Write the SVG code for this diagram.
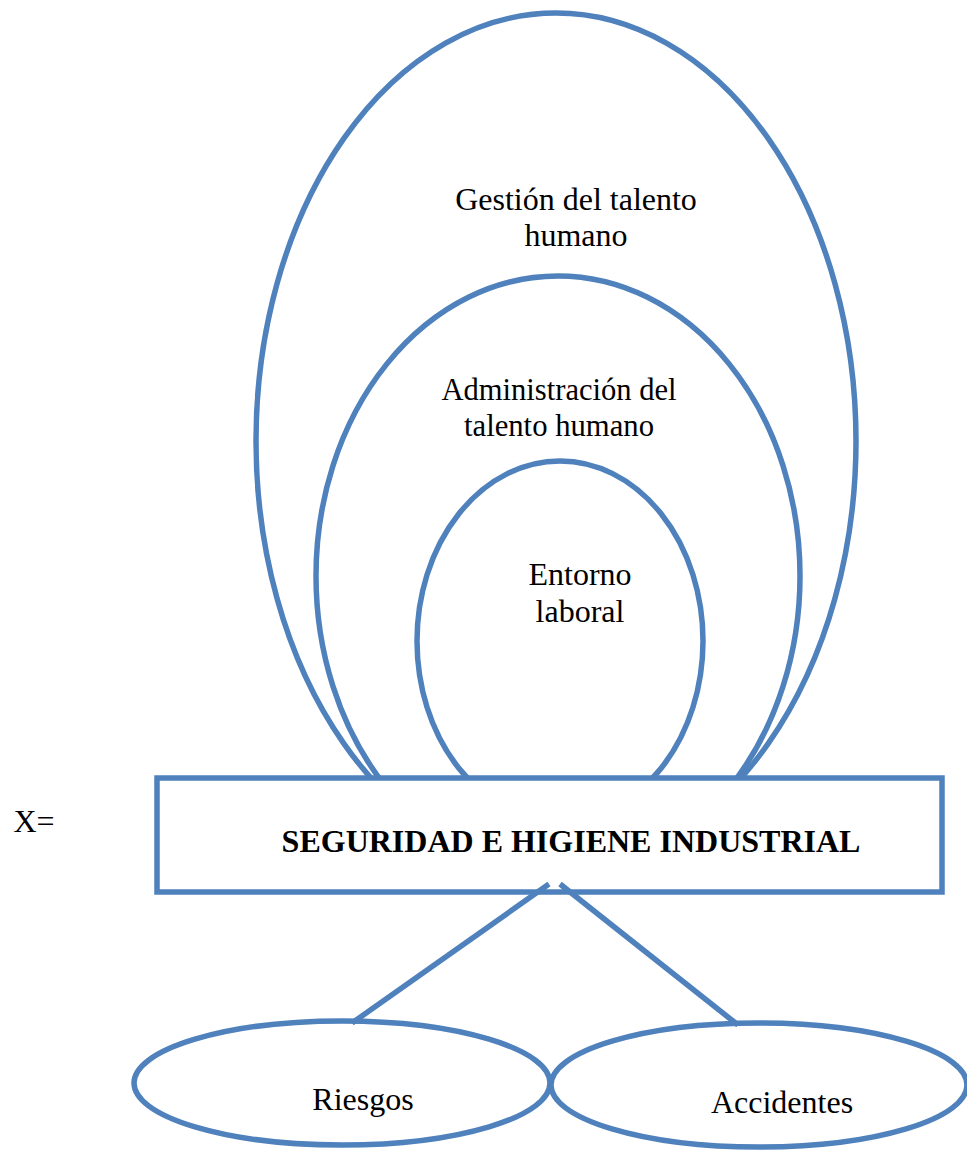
<svg xmlns="http://www.w3.org/2000/svg" width="967" height="1151" viewBox="0 0 967 1151">
  <style>
    .shape { fill: none; stroke: #4F81BD; stroke-width: 5.5; }
    .box { fill: #FFFFFF; stroke: #4F81BD; stroke-width: 5.5; }
    .link { stroke: #4F81BD; stroke-width: 5.5; fill: none; }
    .label { font-family: "Liberation Serif", "Times New Roman", serif; font-size: 32px; fill: #000000; text-anchor: middle; }
    .title { font-weight: bold; }
  </style>
  <rect width="967" height="1151" fill="#FFFFFF"/>

  <!-- nested ovals, drawn before the box so it hides their lower ends -->
  <g id="gestion">
    <ellipse class="shape" cx="556" cy="441" rx="300" ry="428"/>
    <text class="label" x="576" y="210">Gestión del talento</text>
    <text class="label" x="576" y="246">humano</text>
  </g>
  <g id="administracion">
    <ellipse class="shape" cx="558" cy="576" rx="242" ry="300"/>
    <text class="label" x="559" y="400" textLength="235" lengthAdjust="spacingAndGlyphs">Administración del</text>
    <text class="label" x="559" y="436" textLength="190" lengthAdjust="spacingAndGlyphs">talento humano</text>
  </g>
  <g id="entorno">
    <ellipse class="shape" cx="560" cy="641" rx="143" ry="180"/>
    <text class="label" x="580" y="585">Entorno</text>
    <text class="label" x="580" y="622">laboral</text>
  </g>

  <g id="seguridad">
    <rect class="box" x="157" y="778" width="785" height="114"/>
    <text class="label title" x="571" y="852">SEGURIDAD E HIGIENE INDUSTRIAL</text>
  </g>

  <!-- links start just inside the box edge, so their tips show above it -->
  <g id="connectors">
    <line class="link" x1="549" y1="884" x2="352" y2="1023"/>
    <line class="link" x1="560" y1="884" x2="738" y2="1025"/>
  </g>

  <g id="x-label">
    <text class="label" x="34" y="832">X=</text>
  </g>

  <g id="riesgos">
    <ellipse class="shape" cx="342" cy="1083" rx="208" ry="62"/>
    <text class="label" x="363" y="1110">Riesgos</text>
  </g>
  <g id="accidentes">
    <ellipse class="shape" cx="759" cy="1085" rx="208" ry="62"/>
    <text class="label" x="782" y="1113">Accidentes</text>
  </g>
</svg>
